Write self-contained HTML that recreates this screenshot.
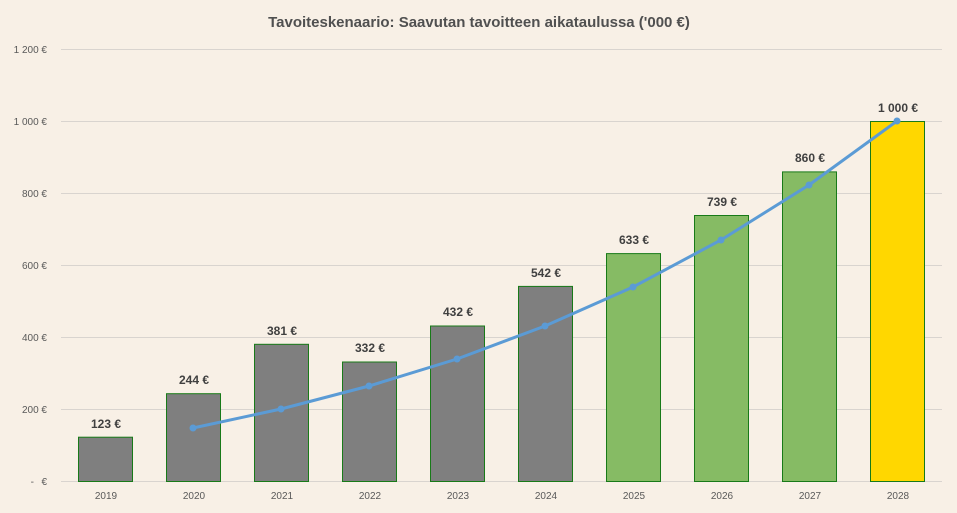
<!DOCTYPE html>
<html><head><meta charset="utf-8"><style>
body{margin:0;background:#f8f0e6;}
svg{display:block;font-family:"Liberation Sans",sans-serif;}
</style></head><body>
<svg width="957" height="513" xmlns="http://www.w3.org/2000/svg">
<rect width="957" height="513" fill="#f8f0e6"/>
<text x="479" y="27" text-anchor="middle" font-size="15" font-weight="bold" fill="#505050">Tavoiteskenaario: Saavutan tavoitteen aikataulussa ('000 €)</text>
<g stroke="#d9d4cf" stroke-width="1">
<line x1="61" x2="942" y1="49.5" y2="49.5"/><line x1="61" x2="942" y1="121.5" y2="121.5"/>
<line x1="61" x2="942" y1="193.5" y2="193.5"/><line x1="61" x2="942" y1="265.5" y2="265.5"/>
<line x1="61" x2="942" y1="337.5" y2="337.5"/><line x1="61" x2="942" y1="409.5" y2="409.5"/>
<line x1="61" x2="942" y1="481.5" y2="481.5"/>
</g>
<g font-size="10" fill="#595959" text-anchor="end">
<text x="47" y="53">1 200 €</text><text x="47" y="125">1 000 €</text>
<text x="47" y="197">800 €</text><text x="47" y="269">600 €</text>
<text x="47" y="341">400 €</text><text x="47" y="413">200 €</text>
<text x="47" y="485">€</text><text x="34" y="485">-</text>
</g>
<g stroke="#187a18" stroke-width="1">
<rect x="78.5" y="437.2" width="54" height="44.3" fill="#7f7f7f"/>
<rect x="166.5" y="393.7" width="54" height="87.8" fill="#7f7f7f"/>
<rect x="254.5" y="344.3" width="54" height="137.2" fill="#7f7f7f"/>
<rect x="342.5" y="362" width="54" height="119.5" fill="#7f7f7f"/>
<rect x="430.5" y="326" width="54" height="155.5" fill="#7f7f7f"/>
<rect x="518.5" y="286.4" width="54" height="195.1" fill="#7f7f7f"/>
<rect x="606.5" y="253.6" width="54" height="227.9" fill="#86bb64"/>
<rect x="694.5" y="215.5" width="54" height="266" fill="#86bb64"/>
<rect x="782.5" y="171.9" width="54" height="309.6" fill="#86bb64"/>
<rect x="870.5" y="121.5" width="54" height="360" fill="#ffd700"/>
</g>
<polyline fill="none" stroke="#5b9bd5" stroke-width="3" points="193,428 281,409 369,386 457,359 545,326 633,287 721,240 809,185 897,121"/>
<g fill="#5b9bd5">
<circle cx="193" cy="428" r="3.5"/><circle cx="281" cy="409" r="3.5"/><circle cx="369" cy="386" r="3.5"/>
<circle cx="457" cy="359" r="3.5"/><circle cx="545" cy="326" r="3.5"/><circle cx="633" cy="287" r="3.5"/>
<circle cx="721" cy="240" r="3.5"/><circle cx="809" cy="185" r="3.5"/><circle cx="897" cy="121" r="3.5"/>
</g>
<g font-size="12" font-weight="bold" fill="#404040" text-anchor="middle">
<text x="106" y="428">123 €</text><text x="194" y="384">244 €</text><text x="282" y="335">381 €</text>
<text x="370" y="352">332 €</text><text x="458" y="316">432 €</text><text x="546" y="277">542 €</text>
<text x="634" y="244">633 €</text><text x="722" y="206">739 €</text><text x="810" y="162">860 €</text>
<text x="898" y="112">1 000 €</text>
</g>
<g font-size="10" fill="#595959" text-anchor="middle">
<text x="106" y="499">2019</text><text x="194" y="499">2020</text><text x="282" y="499">2021</text>
<text x="370" y="499">2022</text><text x="458" y="499">2023</text><text x="546" y="499">2024</text>
<text x="634" y="499">2025</text><text x="722" y="499">2026</text><text x="810" y="499">2027</text>
<text x="898" y="499">2028</text>
</g>
</svg>
</body></html>
